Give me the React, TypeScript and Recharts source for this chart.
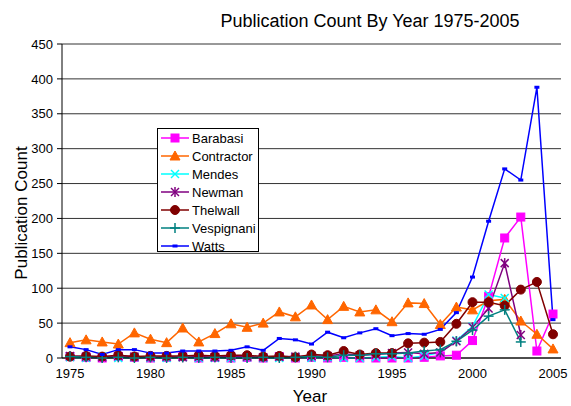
import React from "react"
import { LineChart, Line, XAxis, YAxis, CartesianGrid, Legend } from "recharts"

const years = [1975, 1976, 1977, 1978, 1979, 1980, 1981, 1982, 1983, 1984, 1985, 1986, 1987, 1988, 1989, 1990, 1991, 1992, 1993, 1994, 1995, 1996, 1997, 1998, 1999, 2000, 2001, 2002, 2003, 2004, 2005]

const barabasi = [2, 1, 0, 2, 1, 0, 1, 2, 0, 1, 0, 1, 0, 2, 0, 1, 0, 1, 0, 0, 0, 0, 1, 3, 4, 25, 88, 172, 202, 10, 63]
const contractor = [22, 26, 23, 20, 36, 27, 22, 43, 23, 35, 49, 44, 50, 66, 59, 76, 55, 74, 66, 69, 52, 79, 78, 48, 73, 69, 82, 84, 53, 34, 13]
const mendes = [1, 0, 2, 0, 1, 0, 0, 1, 0, 0, 0, 1, 0, 0, 1, 0, 1, 0, 0, 1, 2, 0, 3, 8, 25, 45, 91, 86, null, null, null]
const newman = [3, 2, 1, 3, 2, 1, 2, 1, 2, 1, 3, 2, 1, 2, 2, 3, 3, 6, 4, 5, 7, 8, 6, 8, 24, 44, 71, 136, 33, null, null]
const thelwall = [2, 3, 2, 4, 2, 3, 3, 3, 4, 3, 4, 4, 2, 3, 1, 5, 4, 10, 5, 7, 7, 21, 22, 23, 49, 80, 80, 75, 98, 109, 34]
const vespignani = [2, 1, 0, 1, 0, 1, 0, 1, 0, 1, 0, 0, 1, 0, 1, 2, 1, 4, 4, 6, 6, 7, 10, 12, 24, 40, 60, 69, 23, null, null]
const watts = [16, 12, 5, 12, 12, 7, 7, 10, 10, 10, 11, 16, 11, 28, 26, 20, 37, 29, 36, 42, 32, 35, 34, 41, 65, 116, 196, 271, 255, 388, 55]

const yTicks = [0, 50, 100, 150, 200, 250, 300, 350, 400, 450]

// tick marks sit on the boundaries between years, like the original category axis
const boundaryTicks = [...years.map((y) => y - 0.5), years[years.length - 1] + 0.5]

const series = [
  { name: "Barabasi", values: barabasi, color: "#ff00ff", shape: "square" },
  { name: "Contractor", values: contractor, color: "#ff6600", shape: "triangle" },
  { name: "Mendes", values: mendes, color: "#00ffff", shape: "x" },
  { name: "Newman", values: newman, color: "#800080", shape: "star" },
  { name: "Thelwall", values: thelwall, color: "#800000", shape: "circle" },
  { name: "Vespignani", values: vespignani, color: "#008080", shape: "plus" },
  { name: "Watts", values: watts, color: "#0000ff", shape: "dash" },
]

const data = years.map((year, i) => {
  const row: any = { year }
  series.forEach((s) => { row[s.name] = s.values[i] })
  return row
})

const font = "'Liberation Sans', Arial, sans-serif"

function Marker({ shape, x, y, color }: { shape: string; x: number; y: number; color: string }) {
  switch (shape) {
    case "square":
      return <rect x={x - 4} y={y - 4} width={8} height={8} fill={color} stroke={color} />
    case "triangle":
      return <polygon points={`${x},${y - 5} ${x + 5},${y + 4} ${x - 5},${y + 4}`} fill={color} stroke={color} />
    case "x":
      return (
        <g stroke={color} strokeWidth={1.5}>
          <line x1={x - 4} y1={y - 4} x2={x + 4} y2={y + 4} />
          <line x1={x - 4} y1={y + 4} x2={x + 4} y2={y - 4} />
        </g>
      )
    case "star":
      return (
        <g stroke={color} strokeWidth={1.5}>
          <line x1={x - 4} y1={y - 4} x2={x + 4} y2={y + 4} />
          <line x1={x - 4} y1={y + 4} x2={x + 4} y2={y - 4} />
          <line x1={x} y1={y - 5} x2={x} y2={y + 5} />
        </g>
      )
    case "circle":
      return <circle cx={x} cy={y} r={4.5} fill={color} stroke={color} />
    case "plus":
      return (
        <g stroke={color} strokeWidth={1.5}>
          <line x1={x - 5} y1={y} x2={x + 5} y2={y} />
          <line x1={x} y1={y - 5} x2={x} y2={y + 5} />
        </g>
      )
    default:
      return <rect x={x - 2.5} y={y - 1.5} width={5} height={3} fill={color} />
  }
}

const makeDot = (shape: string, color: string) => (p: any) => {
  const key = `${shape}-${p.index}`
  if (p.cx == null || p.cy == null || p.value == null) return <g key={key} />
  return (
    <g key={key}>
      <Marker shape={shape} x={p.cx} y={p.cy} color={color} />
    </g>
  )
}

function LegendBox() {
  return (
    <div style={{ width: 100, height: 122, border: "1px solid #000", background: "#fff", fontFamily: font, fontSize: 13 }}>
      {series.map((s) => (
        <div key={s.name} style={{ height: 18, display: "flex", alignItems: "center", whiteSpace: "nowrap" }}>
          <svg width={34} height={12} style={{ flexShrink: 0 }}>
            <line x1={3} y1={6} x2={31} y2={6} stroke={s.color} strokeWidth={1.5} />
            <Marker shape={s.shape} x={17} y={6} color={s.color} />
          </svg>
          <span style={{ color: "#000" }}>{s.name}</span>
        </div>
      ))}
    </div>
  )
}

export default function App() {
  return (
    <div style={{ position: "absolute", left: 0, top: 0, width: 571, height: 406, background: "#fff", fontFamily: font }}>
      <div style={{ position: "absolute", left: 0, width: 740, top: 11, textAlign: "center", fontSize: 18, color: "#000" }}>
        Publication Count By Year 1975-2005
      </div>
      <div style={{ position: "absolute", left: 22, top: 213, transform: "translate(-50%, -50%) rotate(-90deg)", fontSize: 17, whiteSpace: "nowrap" }}>
        Publication Count
      </div>
      <div style={{ position: "absolute", left: 0, width: 620, top: 387, textAlign: "center", fontSize: 17 }}>
        Year
      </div>
      <LineChart width={571} height={406} data={data} margin={{ top: 44, right: 10, bottom: 18, left: 0 }}>
        <CartesianGrid horizontal vertical={false} stroke="#333" />
        <XAxis
          xAxisId="minor"
          type="number"
          dataKey="year"
          domain={[boundaryTicks[0], boundaryTicks[boundaryTicks.length - 1]]}
          ticks={boundaryTicks}
          interval={0}
          height={0}
          tickSize={4}
          axisLine={false}
          stroke="#000"
          tickFormatter={() => ""}
        />
        <XAxis
          dataKey="year"
          interval={4}
          padding={{ left: 8, right: 8 }}
          height={30}
          tickSize={4}
          tickMargin={7}
          tickLine={false}
          stroke="#000"
          tick={{ fontSize: 13, fill: "#000", fontFamily: font }}
        />
        <YAxis
          domain={[0, 450]}
          ticks={yTicks}
          width={62}
          tickSize={5}
          tickMargin={4}
          stroke="#000"
          tick={{ fontSize: 13, fill: "#000", fontFamily: font }}
        />
        <YAxis yAxisId="right" orientation="right" width={0} tick={false} tickLine={false} stroke="#999" />
        <Legend
          layout="vertical"
          align="center"
          verticalAlign="middle"
          content={() => <LegendBox />}
          wrapperStyle={{ left: 157, top: 128, width: 102 }}
        />
        {series.map((s) => (
          <Line
            key={s.name}
            dataKey={s.name}
            stroke={s.color}
            strokeWidth={1.5}
            dot={makeDot(s.shape, s.color)}
            activeDot={false}
            isAnimationActive={false}
          />
        ))}
      </LineChart>
    </div>
  )
}
